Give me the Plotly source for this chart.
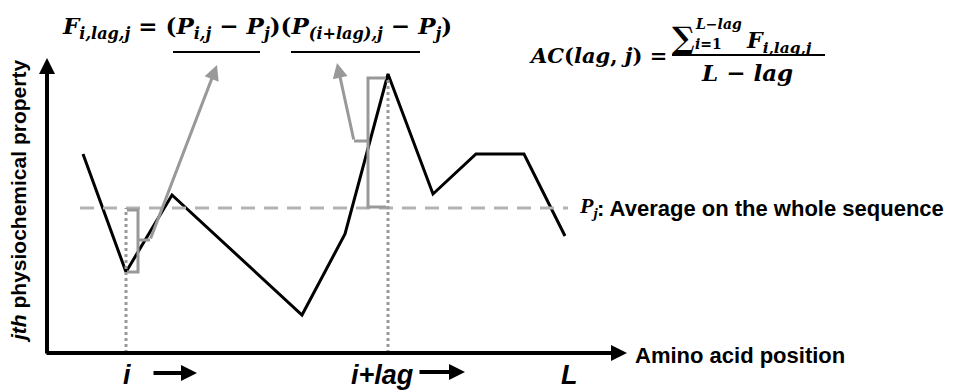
import plotly.graph_objects as go

# ---- data (arbitrary units: x = amino acid position, y = property value) ----
positions = [36, 79, 125, 255, 298, 341, 386, 429, 477, 518]
values = [199, 81, 158, 38, 119, 279, 159, 199, 199, 117]
mean_value = 145
i_pos = 79
lag_pos = 341
L_pos = 518
y_axis_top = 295
x_axis_end = 580

BLACK = "#000000"
GRAY = "#999999"
LGRAY = "#b3b3b3"
SANS = "Liberation Sans"
SERIF = "DejaVu Serif"

fig = go.Figure()

# profile line
fig.add_trace(go.Scatter(x=positions, y=values, mode="lines",
                         line=dict(color=BLACK, width=3), hoverinfo="skip"))
# mean line
fig.add_trace(go.Scatter(x=[positions[0] - 3, L_pos + 3], y=[mean_value, mean_value], mode="lines",
                         line=dict(color=LGRAY, width=3, dash="14px,9px"), hoverinfo="skip"))
# dotted verticals
v_i = values[positions.index(i_pos)]
v_lag = values[positions.index(lag_pos)]
fig.add_trace(go.Scatter(x=[i_pos, i_pos], y=[0, mean_value], mode="lines",
                         line=dict(color=GRAY, width=3, dash="dot"), hoverinfo="skip"))
fig.add_trace(go.Scatter(x=[lag_pos, lag_pos], y=[0, v_lag - 5], mode="lines",
                         line=dict(color=GRAY, width=3, dash="dot"), hoverinfo="skip"))

# brackets
bx1 = i_pos + 12
mid1 = (mean_value + v_i) / 2
fig.add_trace(go.Scatter(x=[i_pos + 1, bx1, bx1, i_pos + 1], y=[mean_value - 2, mean_value - 2, v_i, v_i],
                         mode="lines", line=dict(color=GRAY, width=3), hoverinfo="skip"))
fig.add_trace(go.Scatter(x=[bx1, bx1 + 12], y=[mid1, mid1], mode="lines",
                         line=dict(color=GRAY, width=3), hoverinfo="skip"))
bx2 = lag_pos - 20
mid2 = (mean_value + v_lag) / 2
fig.add_trace(go.Scatter(x=[lag_pos - 2, bx2, bx2, lag_pos - 2], y=[mean_value + 1, mean_value + 1, v_lag - 4, v_lag - 4],
                         mode="lines", line=dict(color=GRAY, width=3), hoverinfo="skip"))
fig.add_trace(go.Scatter(x=[bx2, bx2 - 14], y=[mid2, mid2], mode="lines",
                         line=dict(color=GRAY, width=3), hoverinfo="skip"))

ann = []
# gray arrows to formula
ann.append(dict(x=170, y=288, ax=bx1 + 12, ay=mid1, axref="x", ayref="y", xref="x", yref="y",
                showarrow=True, arrowhead=2, arrowsize=1, arrowwidth=3, arrowcolor=GRAY, text=""))
ann.append(dict(x=290, y=290, ax=bx2 - 14, ay=mid2, axref="x", ayref="y", xref="x", yref="y",
                showarrow=True, arrowhead=2, arrowsize=1, arrowwidth=3, arrowcolor=GRAY, text=""))
# axes arrows
ann.append(dict(x=0, y=y_axis_top, ax=0, ay=-2, axref="x", ayref="y", xref="x", yref="y",
                showarrow=True, arrowhead=2, arrowsize=0.8, arrowwidth=4, arrowcolor=BLACK, text=""))
ann.append(dict(x=x_axis_end, y=0, ax=-2, ay=0, axref="x", ayref="y", xref="x", yref="y",
                showarrow=True, arrowhead=2, arrowsize=0.8, arrowwidth=4, arrowcolor=BLACK, text=""))
# small arrows near labels
ann.append(dict(x=i_pos + 71, y=-20, ax=i_pos + 26, ay=-20, axref="x", ayref="y", xref="x", yref="y",
                showarrow=True, arrowhead=2, arrowsize=0.8, arrowwidth=4, arrowcolor=BLACK, text=""))
ann.append(dict(x=lag_pos + 77, y=-19, ax=lag_pos + 30, ay=-19, axref="x", ayref="y", xref="x", yref="y",
                showarrow=True, arrowhead=2, arrowsize=0.8, arrowwidth=4, arrowcolor=BLACK, text=""))

def txt(x, y, s, size, family=SANS, xa="center", ya="middle", angle=0):
    ann.append(dict(x=x, y=y, xref="x", yref="y", text=s, showarrow=False, xanchor=xa, yanchor=ya,
                    textangle=angle, font=dict(family=family, size=size, color=BLACK)))

txt(i_pos + 1, -22, "<b><i>i</i></b>", 27)
txt(lag_pos - 6, -22, "<b><i>i+lag</i></b>", 27)
txt(L_pos + 4, -22, "<b><i>L</i></b>", 27)
txt(586, -2, "<b>Amino acid position</b>", 22, xa="left")
txt(-29, 151, "<b><i>jth</i> physiochemical property</b>", 21, angle=-90)
txt(530, mean_value + 1, "<b><i>P</i><sub><i>j</i></sub></b>", 22, family="Liberation Serif", xa="left")
txt(548, mean_value, "<b>: Average on the whole sequence</b>", 22, xa="left")

# formula F
txt(13, 326, "<b><i>F<sub>i,lag,j</sub></i> = (<i>P<sub>i,j</sub></i> − <i>P<sub>j</sub></i>)(<i>P<sub>(i+lag),j</sub></i> − <i>P<sub>j</sub></i>)</b>",
    23, family=SERIF, xa="left")
# formula AC
txt(480, 298, "<b><i>AC</i>(<i>lag</i>, <i>j</i>) =</b>", 21, family=SERIF, xa="left")
txt(623, 316, "<b>∑</b>", 30, family=SERIF, xa="left")
txt(646, 329, "<b><i>L−lag</i></b>", 14, family=SERIF, xa="left")
txt(646, 309, "<b><i>i</i>=1</b>", 14, family=SERIF, xa="left")
txt(697, 311, "<b><i>F<sub>i,lag,j</sub></i></b>", 22, family=SERIF, xa="left")
txt(700, 281, "<b><i>L − lag</i></b>", 23, family=SERIF)

shapes = [
    dict(type="line", xref="x", yref="y", x0=126, x1=213, y0=301, y1=301, line=dict(color=BLACK, width=2)),
    dict(type="line", xref="x", yref="y", x0=244, x1=373, y0=301, y1=301, line=dict(color=BLACK, width=2)),
    dict(type="line", xref="x", yref="y", x0=625, x1=778, y0=298, y1=298, line=dict(color=BLACK, width=2)),
]

fig.update_layout(
    width=953, height=391, margin=dict(l=0, r=0, t=0, b=0),
    paper_bgcolor="white", plot_bgcolor="white", showlegend=False,
    xaxis=dict(range=[-47, 906], visible=False, fixedrange=True),
    yaxis=dict(range=[-38, 353], visible=False, fixedrange=True),
    annotations=ann, shapes=shapes,
)

fig.write_html("out.html", config={"displayModeBar": False},
               post_script="document.body.style.margin='0';document.body.style.overflow='hidden';")
